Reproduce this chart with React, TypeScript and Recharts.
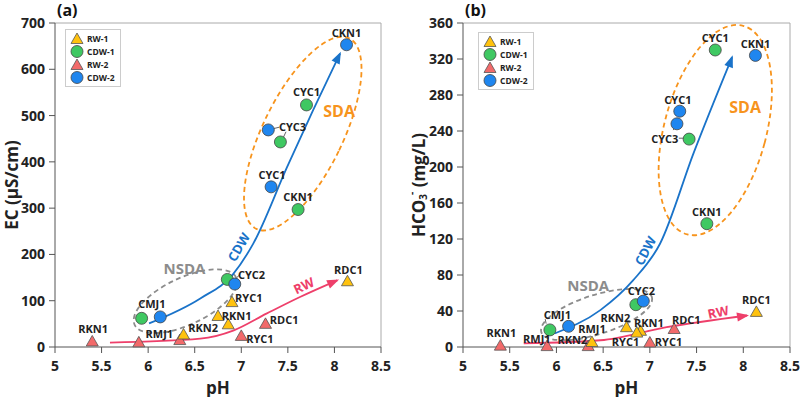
import React from 'react';
import { ScatterChart, Scatter, XAxis, YAxis, ReferenceLine, ReferenceDot } from 'recharts';

const FONT = '"Open Sans", Arial, sans-serif';

const phTicks = [5, 5.5, 6, 6.5, 7, 7.5, 8, 8.5];
const ecTicks = [0, 100, 200, 300, 400, 500, 600, 700];
const hco3Ticks = [0, 40, 80, 120, 160, 200, 240, 280, 320, 360];

// sample groups (same pH in both panels)
const phRw1 = [8.14, 6.9, 6.75, 6.86, 6.38];
const ecRw1 = [142, 97, 67, 49, 27];
const hco3Rw1 = [39, 18, 22, 16, 5.5];

const phRw2 = [5.4, 5.9, 6.34, 7.0, 7.26];
const ecRw2 = [12, 10, 15, 24, 50];
const hco3Rw2 = [1.5, 1, 1, 5, 20];

const phCdw1 = [5.93, 6.85, 7.61, 7.42, 7.7];
const ecCdw1 = [62, 146, 297, 443, 523];
const hco3Cdw1 = [19, 47, 137, 231, 330];

const phCdw2 = [6.13, 6.93, 7.32, 7.29, 8.13];
const ecCdw2 = [65, 136, 346, 469, 653];
const hco3Cdw2 = [23, 51, 262, 248, 324];

// trend arrows (hand drawn in the original)
const cdwPhA = [6.01, 6.56, 6.91, 7.13, 7.49, 7.77, 8.06];
const cdwEcA = [51, 105, 157, 224, 388, 511, 634];
const rwPhA = [5.59, 6.56, 6.92, 7.27, 7.63, 8.03];
const rwEcA = [9.5, 18, 36, 72, 108, 144];

const cdwPhB = [5.98, 6.47, 6.82, 7.11, 7.47, 7.88];
const cdwHB = [15, 41, 74, 115, 216, 322];
const rwPhB = [5.65, 6.47, 7.18, 8.04];
const rwHB = [4, 7.5, 22, 35];

// sample names
const labelsA = [
  { t: 'CKN1', x: 8.13, y: 680 }, { t: 'CYC1', x: 7.7, y: 551 }, { t: 'CYC3', x: 7.55, y: 477 },
  { t: 'CYC1', x: 7.33, y: 373 }, { t: 'CKN1', x: 7.61, y: 325 }, { t: 'CYC2', x: 7.11, y: 157 },
  { t: 'RDC1', x: 8.15, y: 168 }, { t: 'RYC1', x: 7.08, y: 107 }, { t: 'CMJ1', x: 6.04, y: 95 },
  { t: 'RKN1', x: 6.95, y: 68 }, { t: 'RKN1', x: 5.41, y: 40 }, { t: 'RMJ1', x: 6.12, y: 30 },
  { t: 'RKN2', x: 6.59, y: 42 }, { t: 'RDC1', x: 7.46, y: 59 }, { t: 'RYC1', x: 7.2, y: 18 },
];
const labelsB = [
  { t: 'CYC1', x: 7.7, y: 344 }, { t: 'CKN1', x: 8.13, y: 337 }, { t: 'CYC1', x: 7.3, y: 275 },
  { t: 'CYC3', x: 7.16, y: 232 }, { t: 'CKN1', x: 7.61, y: 151 }, { t: 'CYC2', x: 6.91, y: 63 },
  { t: 'CMJ1', x: 6.01, y: 36 }, { t: 'RMJ1', x: 6.38, y: 21 }, { t: 'RKN2', x: 6.63, y: 33 },
  { t: 'RKN1', x: 6.99, y: 27 }, { t: 'RDC1', x: 7.39, y: 31 }, { t: 'RDC1', x: 8.14, y: 53 },
  { t: 'RKN1', x: 5.41, y: 16 }, { t: 'RMJ1', x: 5.79, y: 9 }, { t: 'RKN2', x: 6.17, y: 8 },
  { t: 'RYC1', x: 6.74, y: 6 }, { t: 'RYC1', x: 7.2, y: 6 },
];

// little leader ticks from names to their points
const leadersA = [
  [{ x: 7.35, y: 472 }, { x: 7.41, y: 475 }],
  [{ x: 7.45, y: 452 }, { x: 7.48, y: 465 }],
  [{ x: 6.94, y: 148 }, { x: 6.99, y: 157 }],
];
const leadersB = [
  [{ x: 7.31, y: 232 }, { x: 7.37, y: 232 }],
  [{ x: 7.29, y: 248 }, { x: 7.25, y: 241 }],
  [{ x: 5.88, y: 31 }, { x: 5.89, y: 26 }],
];

const YELLOW = '#ffc20e';
const GREEN = '#3fc862';
const RED = '#f26a6a';
const BLUE = '#1f86ef';
const CDW_C = '#1a73c9';
const RW_C = '#ee3f6a';
const SDA_C = '#f7941d';
const NSDA_C = '#8c8c8c';

const zip = (xs: number[], ys: number[]) => xs.map((x, i) => ({ x, y: ys[i] }));

const Tri = (p: any) => (
  <polygon
    points={`${p.cx},${p.cy - 6} ${p.cx - 6},${p.cy + 4.5} ${p.cx + 6},${p.cy + 4.5}`}
    fill={p.color}
    stroke="#555"
    strokeWidth={0.8}
  />
);
const Dot = (p: any) => <circle cx={p.cx} cy={p.cy} r={6} fill={p.color} stroke="#444" strokeWidth={0.8} />;
const noDot = () => <g />;

const legendItems = [
  { name: 'RW-1', color: YELLOW, tri: true },
  { name: 'CDW-1', color: GREEN, tri: false },
  { name: 'RW-2', color: RED, tri: true },
  { name: 'CDW-2', color: BLUE, tri: false },
];

const LegendBox = ({ left, top }: { left: number; top: number }) => (
  <div
    style={{
      position: 'absolute', left, top, width: 54, padding: '2px 0',
      border: '1px solid #ccc', background: '#fff', fontFamily: FONT,
      fontSize: 8.5, fontWeight: 700, color: '#222',
    }}
  >
    {legendItems.map((it) => (
      <div key={it.name} style={{ display: 'flex', alignItems: 'center', height: 13 }}>
        <svg width={20} height={13}>
          {it.tri ? <Tri cx={11} cy={7} color={it.color} /> : <Dot cx={11} cy={6.5} color={it.color} />}
        </svg>
        <span style={{ marginLeft: 1 }}>{it.name}</span>
      </div>
    ))}
  </div>
);

const ellipseShape = (rx: number, ry: number, rot: number, color: string) => (p: any) => (
  <ellipse
    cx={p.cx} cy={p.cy} rx={rx} ry={ry}
    transform={`rotate(${rot} ${p.cx} ${p.cy})`}
    fill="none" stroke={color} strokeWidth={1.8} strokeDasharray="5 3.5"
  />
);

const arrowShape = (angle: number, color: string) => (p: any) => (
  <polygon points="2,0 -10,-4.5 -10,4.5" transform={`translate(${p.cx},${p.cy}) rotate(${angle})`} fill={color} />
);

const textShape = (t: string, color: string, size: number, rot = 0) => (p: any) => (
  <text
    x={p.cx} y={p.cy} textAnchor="middle" dominantBaseline="central"
    transform={rot ? `rotate(${rot} ${p.cx} ${p.cy})` : undefined}
    fill={color} fontSize={size} fontWeight={700} fontFamily={FONT}
  >
    {t}
  </text>
);

const tickStyle = { fontSize: 14, fontWeight: 700, fill: '#222', fontFamily: FONT };

type XY = { x: number; y: number };
type PanelProps = {
  title: string;
  yMax: number;
  yTicks: number[];
  yWidth: number;
  right: number;
  yLabel: (vb: any) => React.ReactNode;
  ys: number[][];
  cdw: XY[];
  rw: XY[];
  cdwAngle: number;
  rwAngle: number;
  labels: { t: string; x: number; y: number }[];
  leaders: XY[][];
  notes: { t: string; x: number; y: number; c: string; s: number; r?: number }[];
  ellipses: { x: number; y: number; rx: number; ry: number; rot: number; c: string }[];
  legendPos: { left: number; top: number };
};

const Panel = (p: PanelProps) => {
  const [yRw1, yCdw1, yRw2, yCdw2] = p.ys;
  const cdwEnd = p.cdw[p.cdw.length - 1];
  const rwEnd = p.rw[p.rw.length - 1];
  return (
    <div style={{ position: 'relative', width: 400, height: 397 }}>
      <ScatterChart width={400} height={397} margin={{ top: 23, right: p.right, left: 0, bottom: 0 }}>
        <XAxis
          type="number" dataKey="x" domain={[5, 8.5]} ticks={phTicks} height={50}
          tick={tickStyle} tickMargin={8} stroke="#555"
          label={{ content: (lp: any) => {
            const vb = lp.viewBox;
            return (
              <text x={vb.x + vb.width / 2} y={vb.y + 40} textAnchor="middle" dominantBaseline="central"
                fontSize={17} fontWeight={700} fontFamily={FONT} fill="#222">pH</text>
            );
          } }}
        />
        <YAxis
          type="number" dataKey="y" domain={[0, p.yMax]} ticks={p.yTicks} width={p.yWidth}
          tick={tickStyle} tickMargin={4} stroke="#555"
          label={{ content: (lp: any) => p.yLabel(lp.viewBox) }}
        />
        <ReferenceLine y={p.yMax} stroke="#aaa" />
        <ReferenceLine x={8.5} stroke="#aaa" />
        {p.ellipses.map((e, i) => (
          <ReferenceDot key={'e' + i} x={e.x} y={e.y} r={0} shape={ellipseShape(e.rx, e.ry, e.rot, e.c)} />
        ))}
        {p.leaders.map((seg, i) => (
          <ReferenceLine key={'s' + i} segment={seg} stroke="#555" strokeWidth={0.9} />
        ))}
        <Scatter data={p.cdw} fill="none" line={{ stroke: CDW_C, strokeWidth: 1.8 }} lineJointType="monotoneX" shape={noDot} isAnimationActive={false} />
        <Scatter data={p.rw} fill="none" line={{ stroke: RW_C, strokeWidth: 1.8 }} lineJointType="monotoneX" shape={noDot} isAnimationActive={false} />
        <ReferenceDot x={cdwEnd.x} y={cdwEnd.y} r={0} shape={arrowShape(p.cdwAngle, CDW_C)} />
        <ReferenceDot x={rwEnd.x} y={rwEnd.y} r={0} shape={arrowShape(p.rwAngle, RW_C)} />
        <Scatter name="RW-2" data={zip(phRw2, yRw2)} shape={(s: any) => <Tri {...s} color={RED} />} isAnimationActive={false} />
        <Scatter name="RW-1" data={zip(phRw1, yRw1)} shape={(s: any) => <Tri {...s} color={YELLOW} />} isAnimationActive={false} />
        <Scatter name="CDW-1" data={zip(phCdw1, yCdw1)} shape={(s: any) => <Dot {...s} color={GREEN} />} isAnimationActive={false} />
        <Scatter name="CDW-2" data={zip(phCdw2, yCdw2)} shape={(s: any) => <Dot {...s} color={BLUE} />} isAnimationActive={false} />
        {p.notes.map((n, i) => (
          <ReferenceDot key={'n' + i} x={n.x} y={n.y} r={0} shape={textShape(n.t, n.c, n.s, n.r)} />
        ))}
        {p.labels.map((l, i) => (
          <ReferenceDot key={'l' + i} x={l.x} y={l.y} r={0} shape={textShape(l.t, '#222', 11)} />
        ))}
      </ScatterChart>
      <LegendBox left={p.legendPos.left} top={p.legendPos.top} />
      <div style={{ position: 'absolute', left: p.yWidth + 2, top: 0, lineHeight: '20px', fontFamily: FONT, fontSize: 16, fontWeight: 700, color: '#111' }}>
        {p.title}
      </div>
    </div>
  );
};

const ecLabel = (vb: any) => {
  const cx = vb.x + 11;
  const cy = vb.y + vb.height / 2;
  return (
    <text x={cx} y={cy} transform={`rotate(-90 ${cx} ${cy})`} textAnchor="middle" dominantBaseline="central"
      fontSize={17} fontWeight={700} fontFamily={FONT} fill="#222">EC (µS/cm)</text>
  );
};

const hco3Label = (vb: any) => {
  const cx = vb.x + 18;
  const cy = vb.y + vb.height / 2;
  return (
    <text x={cx} y={cy} transform={`rotate(-90 ${cx} ${cy})`} textAnchor="middle" dominantBaseline="central"
      fontSize={17} fontWeight={700} fontFamily={FONT} fill="#222">
      <tspan>HCO</tspan>
      <tspan fontSize={10} dy={5}>3</tspan>
      <tspan fontSize={10} dy={-12} dx={-1}>-</tspan>
      <tspan dy={7}> (mg/L)</tspan>
    </text>
  );
};

export default function App() {
  return (
    <div style={{ width: 800, height: 397, display: 'flex', background: '#fff' }}>
      <style>{'body{margin:0}'}</style>
      <Panel
        title="(a)" yMax={700} yTicks={ecTicks} yWidth={55} right={19} yLabel={ecLabel}
        ys={[ecRw1, ecCdw1, ecRw2, ecCdw2]}
        cdw={zip(cdwPhA, cdwEcA)} rw={zip(rwPhA, rwEcA)} cdwAngle={-64} rwAngle={-24}
        labels={labelsA} leaders={leadersA}
        notes={[
          { t: 'SDA', x: 8.05, y: 509, c: SDA_C, s: 16 },
          { t: 'NSDA', x: 6.39, y: 170, c: NSDA_C, s: 15 },
          { t: 'CDW', x: 6.97, y: 216, c: CDW_C, s: 13, r: -60 },
          { t: 'RW', x: 7.67, y: 133, c: RW_C, s: 13, r: -25 },
        ]}
        ellipses={[
          { x: 7.66, y: 461, rx: 40, ry: 106, rot: 26, c: SDA_C },
          { x: 6.4, y: 99, rx: 56, ry: 23.5, rot: -25, c: NSDA_C },
        ]}
        legendPos={{ left: 65, top: 29 }}
      />
      <Panel
        title="(b)" yMax={360} yTicks={hco3Ticks} yWidth={63} right={10} yLabel={hco3Label}
        ys={[hco3Rw1, hco3Cdw1, hco3Rw2, hco3Cdw2]}
        cdw={zip(cdwPhB, cdwHB)} rw={zip(rwPhB, rwHB)} cdwAngle={-70} rwAngle={-9}
        labels={labelsB} leaders={leadersB}
        notes={[
          { t: 'SDA', x: 8.02, y: 267, c: SDA_C, s: 16 },
          { t: 'NSDA', x: 6.34, y: 69, c: NSDA_C, s: 15 },
          { t: 'CDW', x: 6.95, y: 107, c: CDW_C, s: 13, r: -62 },
          { t: 'RW', x: 7.73, y: 39, c: RW_C, s: 13, r: -12 },
        ]}
        ellipses={[
          { x: 7.7, y: 241, rx: 51, ry: 108, rot: 15, c: SDA_C },
          { x: 6.43, y: 36, rx: 58, ry: 19.6, rot: -17.6, c: NSDA_C },
        ]}
        legendPos={{ left: 78, top: 32 }}
      />
    </div>
  );
}
